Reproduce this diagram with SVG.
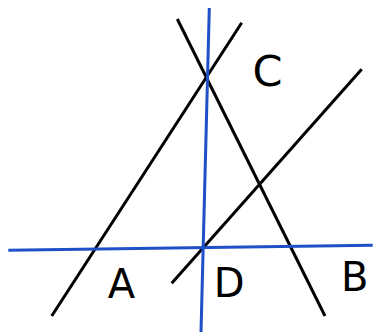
<svg xmlns="http://www.w3.org/2000/svg" width="374" height="332" viewBox="0 0 374 332">
<style>
.k{stroke:#000;stroke-width:3;fill:none}
.b{stroke:#1f50c8;stroke-width:3;fill:none}
.t{font-family:"DejaVu Sans",sans-serif;font-size:40px;fill:#000}
</style>
<rect width="374" height="332" fill="#fff"/>
<g id="connectors">
<line class="k" x1="241.7" y1="22.7" x2="51.7" y2="316"/>
<line class="k" x1="177.3" y1="19" x2="325" y2="316"/>
<line class="k" x1="361.7" y1="69.3" x2="171.7" y2="283.3"/>
<line class="b" x1="209.3" y1="8" x2="201" y2="332"/>
<line class="b" x1="8.3" y1="250.3" x2="372.7" y2="245.3"/>
</g>
<g id="A"><text class="t" x="107.7" y="297.5">A</text></g>
<g id="B"><text class="t" x="341" y="291">B</text></g>
<g id="C"><text class="t" x="252.5" y="86" style="font-size:43px">C</text></g>
<g id="D"><text class="t" x="213.8" y="296.5">D</text></g>
</svg>
